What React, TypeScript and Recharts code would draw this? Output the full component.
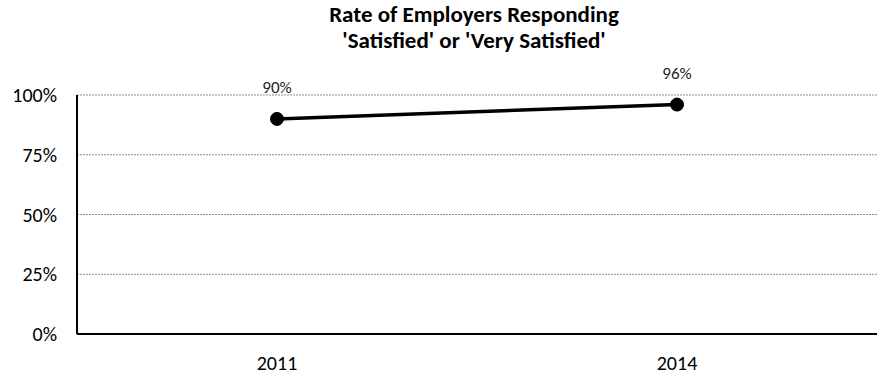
import { LineChart, Line, XAxis, YAxis, CartesianGrid, LabelList } from 'recharts';

const years = ['2011', '2014'];
const satisfied = [0.9, 0.96];
const yTicks = [0, 0.25, 0.5, 0.75, 1];
const titleLines = ['Rate of Employers Responding', "'Satisfied' or 'Very Satisfied'"];

const data = years.map((year, i) => ({ year, rate: satisfied[i] }));
const pct = (v: any) => `${Math.round(Number(v) * 100)}%`;
const font = 'Carlito, Calibri, "Open Sans", sans-serif';

export default function App() {
  return (
    <div style={{ position: 'absolute', left: 0, top: 0, width: 878, height: 376, background: '#fff', fontFamily: font }}>
      <div
        style={{
          position: 'absolute',
          left: 0,
          width: 948,
          top: 1,
          textAlign: 'center',
          fontWeight: 'bold',
          fontSize: 23,
          lineHeight: '26px',
          color: '#000',
        }}
      >
        {titleLines.map((t) => (
          <div key={t}>{t}</div>
        ))}
      </div>
      <LineChart width={878} height={376} data={data} margin={{ top: 95, right: 1, bottom: 12, left: 0 }}>
        <CartesianGrid vertical={false} stroke="#8c8c8c" strokeDasharray="2 1" />
        <XAxis
          dataKey="year"
          height={30}
          padding={{ left: 200, right: 200 }}
          tickLine={false}
          axisLine={{ stroke: '#000', strokeWidth: 2 }}
          tick={{ fill: '#000', fontSize: 20, fontFamily: font }}
          tickMargin={16}
        />
        <YAxis
          domain={[0, 1]}
          ticks={yTicks}
          tickFormatter={pct}
          tickLine={false}
          width={77}
          axisLine={{ stroke: '#000', strokeWidth: 2 }}
          tick={{ fill: '#000', fontSize: 20, fontFamily: font }}
          tickMargin={14}
        />
        <Line
          dataKey="rate"
          stroke="#000"
          strokeWidth={3.5}
          dot={{ r: 6.5, fill: '#000', stroke: '#000', strokeWidth: 1 }}
          isAnimationActive={false}
        >
          <LabelList dataKey="rate" position="top" offset={26} formatter={pct} fill="#222" fontSize={17} fontFamily={font} />
        </Line>
      </LineChart>
    </div>
  );
}
